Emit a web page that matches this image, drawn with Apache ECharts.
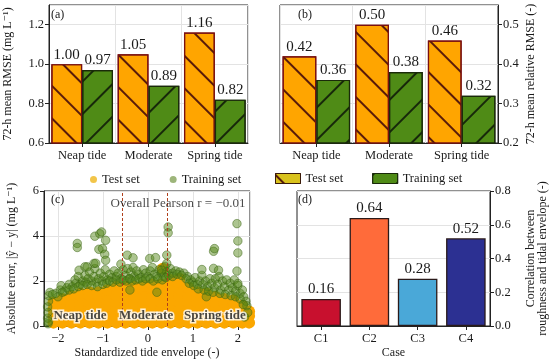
<!DOCTYPE html>
<html>
<head>
<meta charset="utf-8">
<script src="https://cdn.jsdelivr.net/npm/echarts@6/dist/echarts.min.js"></script>
<style>html,body{margin:0;padding:0;background:#fff}#chart{width:550px;height:363px}</style>
</head>
<body>
<div id="chart"></div>
<script>
// ---------------- data ----------------
const tideCategories = ['Neap tide', 'Moderate', 'Spring tide'];
const rmseTest = [1.00, 1.05, 1.16];
const rmseTrain = [0.97, 0.89, 0.82];
const relRmseTest = [0.42, 0.50, 0.46];
const relRmseTrain = [0.36, 0.38, 0.32];
const caseNames = ['C1', 'C2', 'C3', 'C4'];
const caseCorrelation = [0.16, 0.64, 0.28, 0.52];
const tideDividers = [-0.57, 0.44];
const pearsonText = 'Overall Pearson r = \u22120.01';
const regionLabels = [[-1.51, 0.45, 'Neap tide'], [-0.04, 0.45, 'Moderate'], [1.49, 0.45, 'Spring tide']];

// Test set points (dense orange cloud, read column by column)
const testSetPoints = [
 [-2.1,0.15],[-2.1,0.45],[-2.1,0.75],[-2.1,1.05],
 [-1.9,0.15],[-1.9,0.45],[-1.9,0.75],[-1.9,1.05],[-1.9,1.2],
 [-1.7,0.15],[-1.7,0.45],[-1.7,0.75],[-1.7,1.05],[-1.7,1.35],
 [-1.5,0.15],[-1.5,0.45],[-1.5,0.75],[-1.5,1.05],[-1.5,1.35],[-1.5,1.45],
 [-1.3,0.15],[-1.3,0.45],[-1.3,0.75],[-1.3,1.05],[-1.3,1.35],[-1.3,1.5],
 [-1.1,0.15],[-1.1,0.45],[-1.1,0.75],[-1.1,1.05],[-1.1,1.35],[-1.1,1.5],
 [-0.9,0.15],[-0.9,0.45],[-0.9,0.75],[-0.9,1.05],[-0.9,1.35],[-0.9,1.6],
 [-0.7,0.15],[-0.7,0.45],[-0.7,0.75],[-0.7,1.05],[-0.7,1.35],[-0.7,1.65],[-0.7,1.75],
 [-0.5,0.15],[-0.5,0.45],[-0.5,0.75],[-0.5,1.05],[-0.5,1.35],[-0.5,1.65],[-0.5,1.75],
 [-0.3,0.15],[-0.3,0.45],[-0.3,0.75],[-0.3,1.05],[-0.3,1.35],[-0.3,1.65],[-0.3,1.75],
 [-0.1,0.15],[-0.1,0.45],[-0.1,0.75],[-0.1,1.05],[-0.1,1.35],[-0.1,1.65],[-0.1,1.8],
 [0.1,0.15],[0.1,0.45],[0.1,0.75],[0.1,1.05],[0.1,1.35],[0.1,1.65],[0.1,1.85],
 [0.3,0.15],[0.3,0.45],[0.3,0.75],[0.3,1.05],[0.3,1.35],[0.3,1.65],[0.3,1.85],
 [0.5,0.15],[0.5,0.45],[0.5,0.75],[0.5,1.05],[0.5,1.35],[0.5,1.65],[0.5,1.95],[0.5,2.05],
 [0.7,0.15],[0.7,0.45],[0.7,0.75],[0.7,1.05],[0.7,1.35],[0.7,1.65],[0.7,1.95],[0.7,2.1],
 [0.9,0.15],[0.9,0.45],[0.9,0.75],[0.9,1.05],[0.9,1.35],[0.9,1.65],[0.9,1.7],
 [1.1,0.15],[1.1,0.45],[1.1,0.75],[1.1,1.05],[1.1,1.35],[1.1,1.5],
 [1.3,0.15],[1.3,0.45],[1.3,0.75],[1.3,1.05],[1.3,1.35],[1.3,1.45],
 [1.5,0.15],[1.5,0.45],[1.5,0.75],[1.5,1.05],[1.5,1.3],
 [1.7,0.15],[1.7,0.45],[1.7,0.75],[1.7,1.05],[1.7,1.2],
 [1.9,0.15],[1.9,0.45],[1.9,0.75],[1.9,1.05],[1.9,1.15],
 [2.1,0.15],[2.1,0.45],[2.1,0.75],[2.1,0.9],
 [2.25,0.15],[2.25,0.45],[2.25,0.65],
 [0.33,2.55]
];

// Training set points (green)
const trainingSetPoints = [
 [-2.22,0.1],[-2.23,0.35],[-2.22,0.6],[-2.23,0.85],[-2.21,1.1],[-2.2,1.35],[-2.18,1.49],[-2.21,0.2],
 [-2.05,1.45],[-1.95,1.6],[-1.93,1.79],[-1.85,1.55],[-1.8,1.7],[-1.75,1.85],[-1.68,1.75],[-1.62,2.05],
 [-1.6,1.9],[-1.55,2.2],[-1.5,1.85],[-1.45,2.0],[-1.4,2.25],[-1.38,1.95],[-1.33,2.1],[-1.3,2.4],
 [-1.25,2.0],[-1.2,2.2],[-1.18,2.55],[-1.15,1.95],[-1.1,2.1],[-1.06,2.35],[-1.02,2.0],[-0.98,2.2],
 [-0.95,2.5],[-0.9,2.05],[-0.85,2.3],[-0.8,2.15],[-0.75,2.45],[-0.7,2.2],[-0.66,2.35],[-0.6,2.1],
 [-0.55,2.5],[-0.5,2.25],[-0.45,2.55],[-0.42,2.1],[-0.38,2.4],[-0.33,2.6],[-0.3,2.2],[-0.25,2.45],
 [-0.2,2.3],[-0.15,2.15],[-0.1,2.5],[-0.05,2.35],[0.0,2.2],[0.05,2.45],[0.1,2.6],[0.15,2.3],
 [0.2,2.2],[0.25,2.5],[0.3,2.35],[0.35,2.2],[0.38,2.65],[0.42,2.4],[0.46,2.25],[0.5,2.55],
 [0.55,2.35],[0.62,2.45],[0.7,2.4],[0.8,2.35],[0.88,2.2],[0.95,2.05],[1.0,1.95],[1.05,2.15],
 [1.1,1.85],[1.15,2.0],[1.2,2.25],[1.22,1.85],[1.28,2.0],[1.33,1.75],[1.38,2.1],[1.42,1.9],
 [1.48,1.7],[1.5,2.1],[1.55,1.85],[1.58,2.2],[1.62,1.6],[1.66,2.0],[1.7,1.75],[1.75,2.05],
 [1.8,1.6],[1.83,1.9],[1.88,1.7],[1.92,2.05],[1.95,1.55],[2.0,1.8],[2.05,1.45],[2.1,1.6],
 [2.13,1.3],[2.18,1.1],[2.2,0.9],[2.22,0.6],[2.15,0.4],[0.2,1.5],[-0.4,1.6],[1.3,1.3],
 [-1.9,1.5],[-1.75,1.6],[-1.65,1.65],[-1.55,1.75],[-1.45,1.8],[-1.35,1.85],[-1.25,1.8],[-1.12,1.75],
 [-1.0,1.85],[-0.92,1.9],[-0.85,2.0],[-0.78,1.95],[-0.7,2.05],[-0.62,1.95],[-0.55,2.05],[-0.48,2.0],
 [-0.4,2.1],[-0.35,2.0],[-0.27,2.05],[-0.2,2.1],[-0.12,2.0],[-0.05,2.1],[0.05,2.1],[0.12,2.0],
 [0.22,2.1],[0.32,2.05],[0.4,2.15],[0.55,2.2],[0.65,2.3],[0.75,2.25],[0.85,2.1],[0.92,1.9],
 [1.02,1.8],[1.12,1.65],[1.25,1.6],[1.35,1.55],[1.45,1.5],[1.6,1.45],[1.72,1.4],[1.85,1.35],
 [1.95,1.3],[2.05,1.2],[2.12,0.95],[-2.0,1.3],[-2.12,1.4],
 [-1.57,3.67],[-1.57,3.49],[-1.53,2.48],[-1.40,2.63],[-1.35,2.63],[-1.2,2.78],[-1.16,2.79],
 [-1.18,3.99],[-1.07,4.1],[-1.03,4.18],[-0.94,3.81],[-1.09,3.41],[-1.01,3.44],[-0.96,3.19],
 [-0.94,2.92],[-0.46,3.15],[-0.33,3.03],[-0.6,2.75],[0.04,3.0],[0.17,3.04],[0.3,2.48],
 [0.45,4.40],[0.45,4.14],[0.42,3.15],[0.42,2.78],[1.46,3.32],[1.48,3.44],[1.46,2.56],
 [1.57,2.48],[1.2,2.51],[1.98,4.55],[2.0,3.78],[2.0,3.25],[1.98,2.44],[2.0,1.89]
];

// ---------------- styles ----------------
const serif = "'Liberation Serif','DejaVu Serif',serif";
const ink = '#1a1a1a';
const testDecal = {symbol:'rect', symbolSize:1, color:'rgba(80,20,10,0.95)', backgroundColor:'rgba(0,0,0,0)', dashArrayX:[1,0], dashArrayY:[1.6,21], rotation:Math.PI/4};
const trainDecal = {symbol:'rect', symbolSize:1, color:'rgba(20,35,10,0.95)', backgroundColor:'rgba(0,0,0,0)', dashArrayX:[1,0], dashArrayY:[1.6,21], rotation:-Math.PI/4};
const caseColors = ['#c8102e', '#ff6b3a', '#4aa8d8', '#2c3092'];

const gridBase = {show:true, borderColor:'#222', borderWidth:1, backgroundColor:'rgba(0,0,0,0)', containLabel:false};
const splitLn = {show:true, lineStyle:{color:'#e3e3e3', width:1}};
const tick = {show:true, inside:false, length:4, lineStyle:{color:'#222'}};
const axLine = {show:true, onZero:false, lineStyle:{color:'#222', width:1}};
const lbl = (extra) => Object.assign({color:ink, fontFamily:serif, fontSize:12.5}, extra || {});
const nameTs = {color:ink, fontFamily:serif, fontSize:12};
const fmt1 = v => v.toFixed(1);
const minusFmt = v => (v < 0 ? '\u2212' + Math.abs(v) : String(v));

const valLabel = {show:true, position:'top', distance:2, color:ink, fontFamily:serif, fontSize:15, formatter: p => p.value.toFixed(2)};

const chart = echarts.init(document.getElementById('chart'), null, {renderer:'canvas'});
chart.setOption({
  animation:false,
  backgroundColor:'#fff',
  title:[
    {text:'(a)', left:51, top:9, padding:0, textStyle:{fontFamily:serif, fontSize:12, fontWeight:'normal', color:ink}},
    {text:'(b)', left:298, top:9, padding:0, textStyle:{fontFamily:serif, fontSize:12, fontWeight:'normal', color:ink}},
    {text:'(c)', left:51, top:194, padding:0, textStyle:{fontFamily:serif, fontSize:12, fontWeight:'normal', color:ink}},
    {text:'(d)', left:298, top:194, padding:0, textStyle:{fontFamily:serif, fontSize:12, fontWeight:'normal', color:ink}}
  ],
  legend:[
    {left:90, top:173, padding:0, itemWidth:7, itemHeight:7, itemGap:30, icon:'circle', selectedMode:false,
     textStyle:{fontFamily:serif, fontSize:12.5, color:ink},
     data:[{name:'Test set', icon:'circle', itemStyle:{color:'#f2c54a', borderWidth:0, decal:'none', opacity:1}},
           {name:'Training set', icon:'circle', itemStyle:{color:'#9db57a', borderWidth:0, decal:'none', opacity:1}}]},
    {left:275, top:172, padding:0, itemWidth:25, itemHeight:10, itemGap:29, icon:'rect', selectedMode:false,
     textStyle:{fontFamily:serif, fontSize:12.5, color:ink},
     data:[{name:'Test set', icon:'rect', itemStyle:{color:'#d9c21c', borderColor:'#3a1a0a', borderWidth:1, decal:testDecal, opacity:1}},
           {name:'Training set', icon:'rect', itemStyle:{color:'#4f8b16', borderColor:'#1a2a0a', borderWidth:1, decal:trainDecal, opacity:1}}]}
  ],
  grid:[
    Object.assign({left:49, top:5, width:199, height:138}, gridBase),
    Object.assign({left:280, top:5, width:218, height:138}, gridBase),
    Object.assign({left:44, top:191, width:206, height:135}, gridBase),
    Object.assign({left:297, top:191, width:201, height:135}, gridBase)
  ],
  xAxis:[
    {gridIndex:0, type:'category', data:tideCategories, axisLine:axLine, axisTick:Object.assign({alignWithLabel:true}, tick), axisLabel:lbl({margin:6, interval:0}), splitLine:splitLn},
    {gridIndex:1, type:'category', data:tideCategories, axisLine:axLine, axisTick:Object.assign({alignWithLabel:true}, tick), axisLabel:lbl({margin:6, interval:0}), splitLine:splitLn},
    {gridIndex:2, type:'value', min:-2.31, max:2.27, axisLine:axLine, axisTick:tick,
     axisLabel:lbl({margin:6, formatter:minusFmt, showMinLabel:false, showMaxLabel:false}), splitLine:splitLn,
     name:'Standardized tide envelope (-)', nameLocation:'middle', nameGap:21, nameTextStyle:nameTs},
    {gridIndex:3, type:'category', data:caseNames, axisLine:axLine, axisTick:Object.assign({alignWithLabel:true}, tick), axisLabel:lbl({margin:6, interval:0}), splitLine:{show:false},
     name:'Case', nameLocation:'middle', nameGap:21, nameTextStyle:nameTs}
  ],
  yAxis:[
    {gridIndex:0, type:'value', min:0.6, max:1.3, interval:0.2, axisLine:axLine, axisTick:tick,
     axisLabel:lbl({margin:5, formatter:fmt1, showMaxLabel:false}), splitLine:splitLn,
     name:'72-h mean RMSE (mg L\u207B\u00B9)', nameLocation:'middle', nameGap:35, nameTextStyle:nameTs},
    {gridIndex:1, type:'value', position:'right', min:0.2, max:0.55, interval:0.1, axisLine:axLine, axisTick:tick,
     axisLabel:lbl({margin:5, formatter:fmt1, showMaxLabel:false}), splitLine:splitLn,
     name:'72-h mean relative RMSE (-)', nameLocation:'middle', nameGap:27, nameRotate:90, nameTextStyle:nameTs},
    {gridIndex:2, type:'value', min:0, max:6, interval:2, axisLine:axLine, axisTick:tick,
     axisLabel:lbl({margin:5}), splitLine:splitLn,
     name:'Absolute error, |\u0177 \u2212 y| (mg L\u207B\u00B9)', nameLocation:'middle', nameGap:26, nameTextStyle:nameTs},
    {gridIndex:3, type:'value', position:'right', min:0, max:0.8, interval:0.2, axisLine:axLine, axisTick:tick,
     axisLabel:lbl({margin:5, formatter:fmt1}), splitLine:splitLn,
     name:'Correlation between\nroughness and tidal envelope (-)', nameLocation:'middle', nameGap:35, nameRotate:90,
     nameTextStyle:Object.assign({lineHeight:12}, nameTs)}
  ],
  series:[
    {type:'scatter', name:'Test set', xAxisIndex:2, yAxisIndex:2, data:testSetPoints, symbolSize:() => 12, clip:true, z:2,
     itemStyle:{color:'#fba700', opacity:1}, silent:true},
    {type:'scatter', name:'Training set', xAxisIndex:2, yAxisIndex:2, data:trainingSetPoints, symbolSize:() => 8.5, clip:true, z:3,
     itemStyle:{color:'rgba(84,134,24,0.6)', borderColor:'rgba(60,100,20,0.8)', borderWidth:0.8}, silent:true,
     markLine:{silent:true, symbol:'none', label:{show:false},
       lineStyle:{color:'#b0401c', type:[3,2], width:1},
       data: tideDividers.map(v => ({xAxis:v}))}},
    {type:'bar', name:'Test set', xAxisIndex:0, yAxisIndex:0, data:rmseTest, barGap:'0%', barCategoryGap:'7%',
     itemStyle:{color:'#ffa500', borderColor:'#7a1010', borderWidth:1.2, decal:testDecal}, label:valLabel},
    {type:'bar', name:'Training set', xAxisIndex:0, yAxisIndex:0, data:rmseTrain, barGap:'0%', barCategoryGap:'7%',
     itemStyle:{color:'#4f8b16', borderColor:'#1a2a0a', borderWidth:1.2, decal:trainDecal}, label:valLabel},
    {type:'bar', name:'Test set', xAxisIndex:1, yAxisIndex:1, data:relRmseTest, barGap:'0%', barCategoryGap:'7%',
     itemStyle:{color:'#ffa500', borderColor:'#7a1010', borderWidth:1.2, decal:testDecal}, label:valLabel},
    {type:'bar', name:'Training set', xAxisIndex:1, yAxisIndex:1, data:relRmseTrain, barGap:'0%', barCategoryGap:'7%',
     itemStyle:{color:'#4f8b16', borderColor:'#1a2a0a', borderWidth:1.2, decal:trainDecal}, label:valLabel},
    {type:'scatter', name:'regions', xAxisIndex:2, yAxisIndex:2, data:regionLabels, symbolSize:0, z:5, silent:true,
     label:{show:true, position:'inside', formatter:p => p.value[2], fontFamily:serif, fontSize:13, fontWeight:'bold', color:ink,
            textBorderColor:'#ffffff', textBorderWidth:3}},
    {type:'scatter', name:'pearson', xAxisIndex:2, yAxisIndex:2, data:[[2.17, 5.45, pearsonText]], symbolSize:0, z:5, silent:true,
     label:{show:true, position:'inside', align:'right', formatter:p => p.value[2], fontFamily:serif, fontSize:13, color:ink}},
    {type:'bar', name:'Correlation', xAxisIndex:3, yAxisIndex:3, barCategoryGap:'18%',
     data:caseCorrelation.map((v,i) => ({value:v, itemStyle:{color:caseColors[i]}})),
     itemStyle:{borderColor:'#2a1a1a', borderWidth:1.3}, label:valLabel}
  ]
});
</script>
</body>
</html>
